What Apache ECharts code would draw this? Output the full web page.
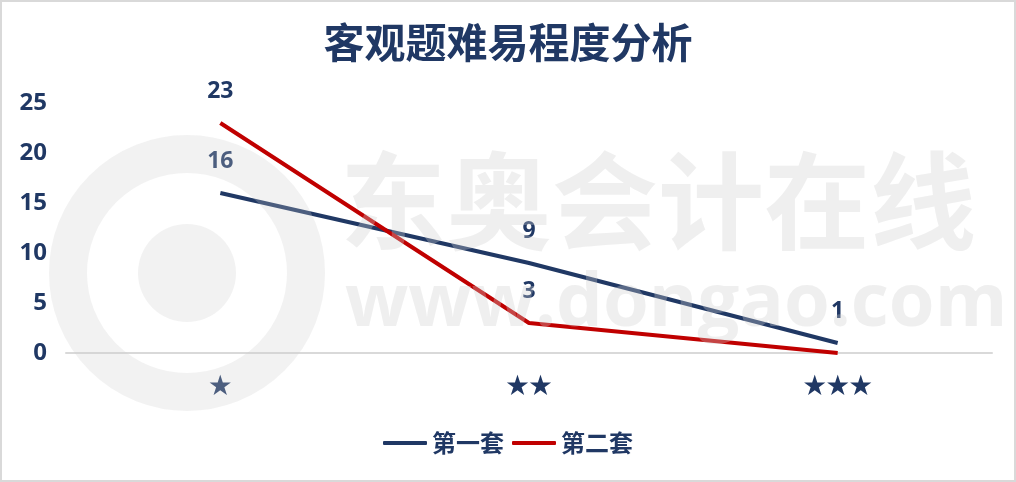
<!DOCTYPE html>
<html><head><meta charset="utf-8">
<script src="https://cdn.jsdelivr.net/npm/echarts@6/dist/echarts.min.js"></script>
<style>
html,body{margin:0;padding:0;background:#fff;}
#c{width:1016px;height:482px;box-sizing:border-box;border:2px solid #d9d9d9;}
</style></head><body>
<div id="c"></div>
<script>
const categories = ['★', '★★', '★★★'];
const seriesNames = ['第一套', '第二套'];
const set1 = [16, 9, 1];
const set2 = [23, 3, 0];
const yTicks = [0, 5, 10, 15, 20, 25];

const navy = '#203864';
const red = '#C00000';
const chart = echarts.init(document.getElementById('c'));
const lbl = { show: true, position: 'top', distance: 20, color: navy, fontSize: 23, fontWeight: 'bold', fontFamily: 'Open Sans' };
chart.setOption({
  animation: false,
  title: {
    text: '客观题难易程度分析', left: 'center', top: 15,
    textStyle: { fontFamily: 'Noto Sans CJK SC', fontWeight: 'bold', fontSize: 41, color: navy }
  },
  legend: {
    bottom: 20, left: 'center', itemWidth: 44, itemHeight: 4, itemGap: 8,
    icon: 'roundRect',
    textStyle: { fontFamily: 'Noto Sans CJK SC', fontWeight: 'bold', fontSize: 24, color: navy },
    data: seriesNames
  },
  graphic: [
    { type: 'circle', shape: { cx: 185, cy: 271, r: 119 }, style: { fill: 'none', stroke: 'rgba(205,205,205,0.26)', lineWidth: 38 }, z: 100, silent: true },
    { type: 'circle', shape: { cx: 185, cy: 271, r: 49 }, style: { fill: 'rgba(205,205,205,0.26)' }, z: 100, silent: true },
    { type: 'text', left: 338, top: 146, style: { text: '东奥会计在线', font: 'bold 106px "Noto Sans CJK SC"', fill: 'rgba(205,205,205,0.33)' }, z: 100, silent: true },
    { type: 'text', left: 343, top: 266, style: { text: 'www.dongao.com', font: 'bold 74px "Open Sans"', fill: 'rgba(205,205,205,0.33)' }, z: 100, silent: true }
  ],
  grid: { left: 64, right: 22, top: 101, bottom: 127 },
  xAxis: {
    type: 'category', data: categories, boundaryGap: true,
    axisLine: { lineStyle: { color: '#d9d9d9', width: 2 } },
    axisTick: { show: false },
    axisLabel: { color: navy, fontSize: 23, margin: 20, fontFamily: 'Noto Sans CJK SC' }
  },
  yAxis: {
    type: 'value', min: 0, max: 25, interval: 5,
    axisLine: { show: false }, axisTick: { show: false }, splitLine: { show: false },
    axisLabel: {
      color: navy, fontSize: 24, fontWeight: 'bold', fontFamily: 'Open Sans', margin: 19,
      formatter: v => yTicks.includes(v) ? String(v) : ''
    }
  },
  series: [
    {
      name: seriesNames[0], type: 'line', data: set1, symbol: 'circle', symbolSize: 0, showSymbol: true,
      lineStyle: { color: navy, width: 4 }, itemStyle: { color: navy },
      label: lbl
    },
    {
      name: seriesNames[1], type: 'line', data: set2, symbol: 'circle', symbolSize: 0, showSymbol: true,
      lineStyle: { color: red, width: 4 }, itemStyle: { color: red },
      label: Object.assign({}, lbl, { formatter: p => p.value === 0 ? '' : String(p.value) })
    }
  ]
});
</script>
</body></html>
